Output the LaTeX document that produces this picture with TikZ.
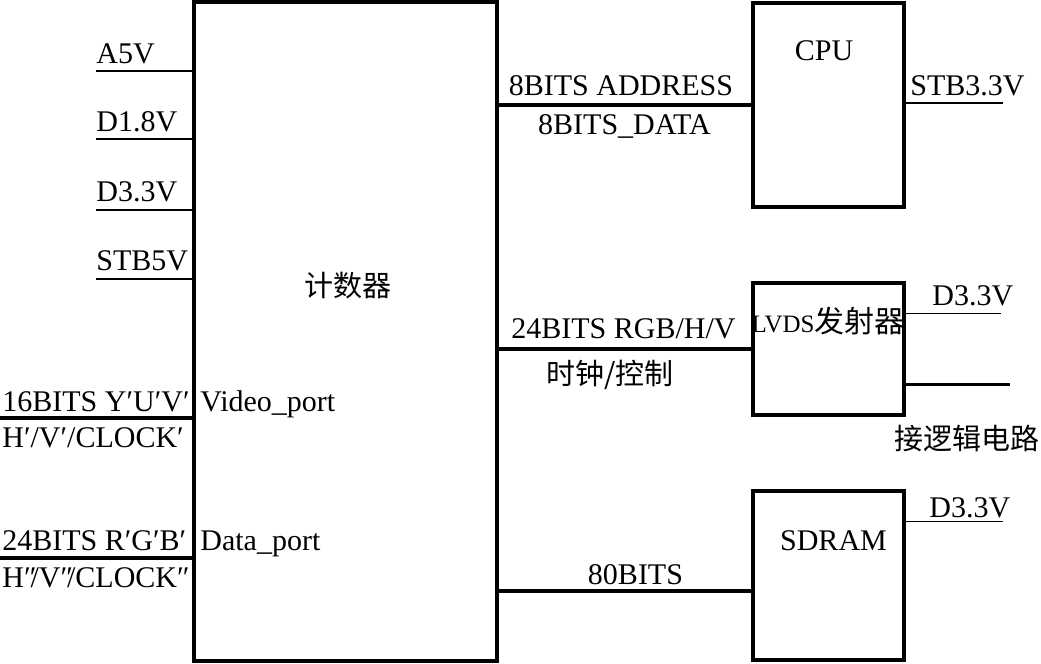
\documentclass[tikz,border=0pt]{standalone}
\usepackage{fontspec}
\setmainfont{Liberation Serif}
\newfontfamily\cjk{Noto Sans CJK SC}
\begin{document}
\begin{tikzpicture}[x=0.5pt,y=-0.5pt,
    blk/.style={draw,line width=1.8pt,inner sep=0pt},
    bus/.style={line width=1.8pt},
    pwr/.style={line width=0.8pt},
    txt/.style={inner sep=0pt,font=\fontsize{15}{18}\selectfont},
    cjktxt/.style={inner sep=0pt,font=\fontsize{14.5}{17}\selectfont\cjk}]
    \useasboundingbox (0,0) rectangle (1041,664);
    % blocks
    \node[blk,minimum width=151.5pt,minimum height=329.5pt] (cnt) at (345.5,331.5) {};
    \node[blk,minimum width=75.5pt,minimum height=102pt] (cpu) at (828.5,105) {};
    \node[blk,minimum width=75.5pt,minimum height=66pt] (lvds) at (828.5,349) {};
    \node[blk,minimum width=75.5pt,minimum height=84.5pt] (sdram) at (828.5,575.5) {};
    \node[cjktxt] (cntname) at (348,286) {计数器};
    \node[txt,anchor=base] (cpuname) at (824,61) {CPU};
    \node[txt,anchor=base] (lvdsname) at (828,332) {{\fontsize{12.5}{14}\selectfont LVDS}{\cjk 发射器}};
    \node[txt,anchor=base] (sdramname) at (833.5,550) {SDRAM};
    % supply inputs of the counter
    \coordinate (pa) at (96,71);
    \coordinate (pb) at (96,139);
    \coordinate (pc) at (96,210);
    \coordinate (pd) at (96,279);
    \draw[pwr] (pa) -- (pa -| cnt.west);
    \draw[pwr] (pb) -- (pb -| cnt.west);
    \draw[pwr] (pc) -- (pc -| cnt.west);
    \draw[pwr] (pd) -- (pd -| cnt.west);
    \node[txt,anchor=base west] (va) at (96,63) {A5V};
    \node[txt,anchor=base west] (vb) at (96,132) {D1.8V};
    \node[txt,anchor=base west] (vc) at (96,201) {D3.3V};
    \node[txt,anchor=base west] (vd) at (96,270) {STB5V};
    % video and data ports
    \coordinate (vin) at (0,418);
    \coordinate (din) at (0,558);
    \draw[bus] (vin) -- (vin -| cnt.west);
    \draw[bus] (din) -- (din -| cnt.west);
    \node[txt,anchor=base west] (vinup) at (2,411) {16BITS Y′U′V′};
    \node[txt,anchor=base west] (vinlo) at (2,447) {H′/V′/CLOCK′};
    \node[txt,anchor=base west] (vport) at (200,411) {Video\_port};
    \node[txt,anchor=base west] (dinup) at (2,550) {24BITS R′G′B′};
    \node[txt,anchor=base west] (dinlo) at (2,587) {H″\kern-.2em/V″\kern-.2em/CLOCK″};
    \node[txt,anchor=base west] (dport) at (200,550) {Data\_port};
    % counter to cpu
    \draw[bus] (cpu.west) -- (cpu.west -| cnt.east);
    \node[txt,anchor=base] (adr) at (621,95) {8BITS ADDRESS};
    \node[txt,anchor=base] (dat) at (624.5,134) {8BITS\_DATA};
    \coordinate (cpuv) at (1003,103);
    \draw[pwr] (cpuv -| cpu.east) -- (cpuv);
    \node[txt,anchor=base west] (cpuvl) at (910,96) {STB3.3V};
    % counter to lvds
    \draw[bus] (lvds.west) -- (lvds.west -| cnt.east);
    \node[txt,anchor=base] (rgb) at (623.5,338) {24BITS RGB/H/V};
    \node[cjktxt] (clk) at (610,375) {时钟/控制};
    \coordinate (lvdsv) at (1001,313.5);
    \draw[pwr] (lvdsv -| lvds.east) -- (lvdsv);
    \node[txt,anchor=base west] (lvdsvl) at (932,305) {D3.3V};
    \coordinate (lvdsout) at (1010,384.5);
    \draw[bus] (lvdsout -| lvds.east) -- (lvdsout);
    \node[cjktxt] (logic) at (967,438) {接逻辑电路};
    % counter to sdram
    \coordinate (sdbus) at (0,591);
    \draw[bus] (sdbus -| cnt.east) -- (sdbus -| sdram.west);
    \node[txt,anchor=base] (bits) at (635.5,584) {80BITS};
    \coordinate (sdv) at (1003,521.5);
    \draw[pwr] (sdv -| sdram.east) -- (sdv);
    \node[txt,anchor=base west] (sdvl) at (929,517) {D3.3V};
\end{tikzpicture}
\end{document}
